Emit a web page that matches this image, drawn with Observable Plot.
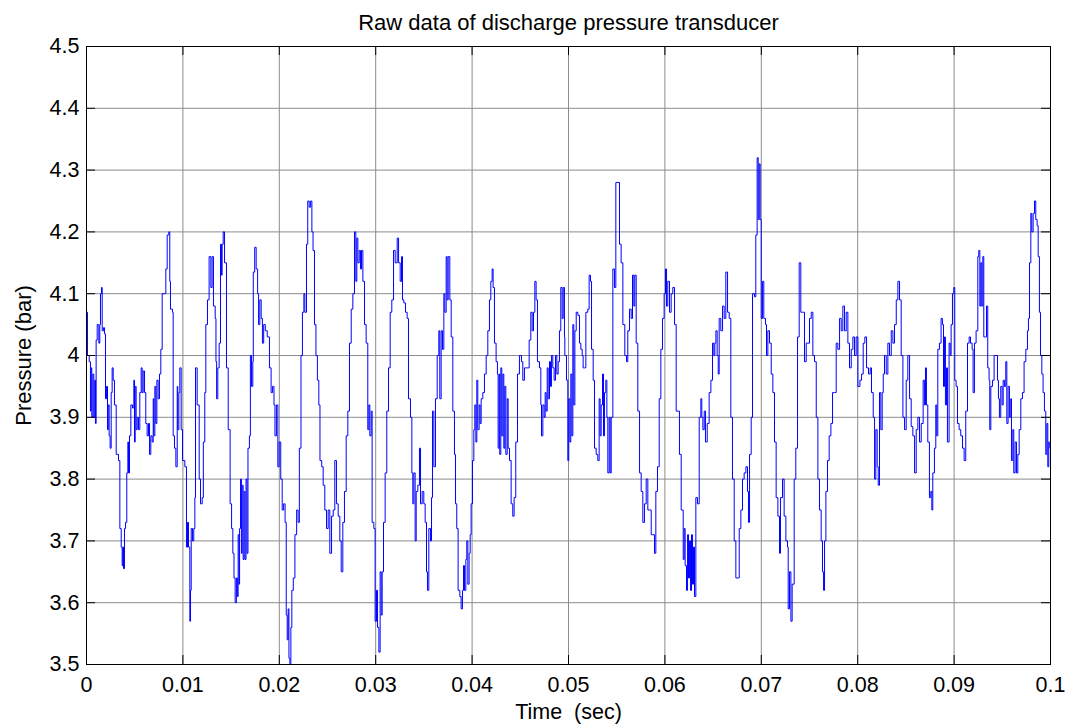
<!DOCTYPE html>
<html>
<head>
<meta charset="utf-8">
<script src="https://cdn.jsdelivr.net/npm/d3@7"></script>
<script src="https://cdn.jsdelivr.net/npm/@observablehq/plot@0.6"></script>
<style>
  body { margin: 0; background: #fff; }
  #chart svg { display: block; }
</style>
</head>
<body>
<div id="chart"></div>
<script>
// ---- data (time in milliseconds, pressure in bar) ----
const timeMs = [
  0.00,0.10,0.28,0.41,0.48,0.55,0.66,0.76,0.86,0.93,1.00,1.11,1.28,1.38,1.45,1.56,1.63,1.76,1.87,1.97,
  2.07,2.18,2.25,2.35,2.45,2.56,2.66,2.77,2.90,3.08,3.32,3.46,3.60,3.70,3.77,3.84,3.94,4.05,4.18,4.29,
  4.36,4.46,4.60,4.77,4.91,4.98,5.05,5.15,5.26,5.39,5.53,5.67,5.77,5.88,6.02,6.15,6.29,6.43,6.54,6.67,
  6.81,6.92,6.98,7.09,7.19,7.30,7.43,7.57,7.71,7.85,8.09,8.23,8.37,8.54,8.64,8.71,8.92,8.99,9.13,9.27,
  9.41,9.47,9.58,9.68,9.82,9.96,10.20,10.37,10.48,10.58,10.72,10.79,10.86,11.00,11.13,11.24,11.31,11.48,11.69,11.83,
  12.00,12.12,12.27,12.38,12.55,12.72,12.90,13.03,13.17,13.35,13.43,13.50,13.62,13.76,13.90,14.00,14.07,14.18,14.32,14.52,
  14.70,14.90,15.05,15.18,15.30,15.42,15.55,15.65,15.73,15.82,15.88,15.98,16.07,16.15,16.25,16.35,16.45,16.55,16.65,16.75,
  16.90,17.00,17.12,17.25,17.30,17.45,17.60,17.75,17.85,17.98,18.12,18.25,18.38,18.55,18.75,18.98,19.15,19.30,19.45,19.55,
  19.70,19.85,19.98,20.15,20.30,20.45,20.60,20.72,20.82,20.92,21.00,21.10,21.20,21.30,21.45,21.62,21.80,21.95,22.08,22.25,
  22.40,22.55,22.65,22.82,22.95,23.10,23.25,23.38,23.50,23.65,23.80,23.95,24.10,24.22,24.40,24.55,24.72,
  24.90,25.07,25.24,25.42,25.59,25.76,25.93,26.11,26.28,26.42,26.59,26.76,26.94,27.11,27.28,27.46,27.63,27.80,27.94,28.04,
  28.15,28.29,28.42,28.53,28.67,28.84,29.01,29.18,29.29,29.39,29.53,29.63,29.81,29.94,30.08,30.19,30.33,30.46,30.57,30.67,
  30.81,30.98,31.15,31.33,31.50,31.67,31.85,32.02,32.23,32.37,32.54,32.68,32.78,32.92,33.09,33.26,33.40,33.61,33.75,33.85,
  33.96,34.09,34.20,34.37,34.54,34.65,34.82,34.99,35.13,35.27,35.37,35.51,35.68,35.79,35.89,36.03,36.20,36.38,36.55,36.65,
  36.79,36.93,37.07,
  37.17,37.31,37.41,37.52,37.69,37.83,38.00,38.17,38.28,38.41,38.55,38.73,38.86,39.00,39.11,39.21,39.35,39.45,39.56,39.69,
  39.80,39.90,40.04,40.18,40.28,40.39,40.49,40.59,40.73,40.83,40.94,41.11,41.28,41.46,41.63,41.80,41.94,42.08,42.18,42.32,
  42.49,42.63,42.70,42.81,42.87,42.98,43.08,43.19,43.29,43.39,43.50,43.64,43.74,43.88,44.05,44.22,44.36,44.53,44.71,44.91,
  45.12,45.26,45.43,45.64,45.92,46.09,46.23,46.37,46.51,46.64,46.78,46.99,47.13,47.20,47.34,47.47,47.58,47.68,47.79,47.89,
  48.03,48.13,48.23,48.37,48.51,48.65,48.79,48.93,49.06,49.20,49.34,49.45,49.58,
  49.62,49.79,49.93,50.03,50.14,50.24,50.35,50.45,50.55,50.66,50.80,50.97,51.14,51.28,51.42,51.52,51.66,51.80,52.00,52.14,
  52.28,52.39,52.56,52.70,52.87,53.04,53.18,53.28,53.39,53.53,53.63,53.73,53.87,53.98,54.08,54.22,54.32,54.43,54.60,54.77,
  54.91,55.12,55.29,55.46,55.64,55.84,56.02,56.15,56.33,56.50,56.64,56.78,56.88,57.02,57.19,57.37,57.54,57.71,57.88,58.06,
  58.23,58.40,58.58,58.75,58.92,59.06,59.23,59.41,59.58,59.75,59.92,60.06,60.17,60.30,60.48,60.65,60.82,61.00,61.17,61.38,
  61.51,61.69,
  61.90,62.00,62.10,62.24,62.35,62.45,62.55,62.66,62.76,62.86,62.97,63.07,63.21,63.38,63.56,63.73,63.83,63.94,64.08,64.21,
  64.39,64.59,64.77,64.94,65.08,65.18,65.29,65.42,65.53,65.63,65.80,65.98,66.15,66.32,66.50,66.67,66.84,67.01,67.19,67.36,
  67.57,67.71,67.88,68.05,68.22,68.40,68.57,68.67,68.78,68.95,69.09,69.30,69.43,69.57,69.68,69.78,69.88,69.99,70.13,70.26,
  70.44,70.54,70.68,70.85,71.03,71.20,71.37,71.54,71.72,71.89,71.99,72.20,72.37,72.55,72.72,72.79,72.93,73.07,73.20,73.41,
  73.58,73.76,73.93,74.10,74.28,
  74.31,74.48,74.66,74.83,75.00,75.18,75.35,75.52,75.70,75.87,76.04,76.21,76.35,76.46,76.56,76.70,76.87,77.04,77.22,77.39,
  77.60,77.77,77.94,78.12,78.29,78.46,78.63,78.81,78.98,79.15,79.33,79.50,79.67,79.84,80.02,80.23,80.40,80.57,80.74,80.92,
  81.12,81.30,81.43,81.61,81.75,81.88,82.02,82.13,82.26,82.40,82.54,82.65,82.78,82.96,83.13,83.30,83.48,83.65,83.82,84.00,
  84.17,84.34,84.51,84.69,84.86,85.03,85.20,85.38,85.55,85.72,85.90,86.07,86.24,86.41,86.59,
  86.79,86.92,87.03,87.13,87.27,87.44,87.58,87.69,87.79,87.96,88.10,88.20,88.31,88.48,88.65,88.79,88.90,89.00,89.10,89.21,
  89.31,89.48,89.59,89.69,89.83,89.97,90.07,90.21,90.35,90.52,90.69,90.87,91.04,91.21,91.39,91.56,91.70,91.87,91.97,92.11,
  92.28,92.46,92.56,92.67,92.77,92.87,92.98,93.08,93.25,93.36,93.49,93.63,93.70,93.81,93.98,94.15,94.32,94.50,94.60,94.70,
  94.84,94.98,95.09,95.22,95.36,95.47,95.60,95.74,95.88,95.95,96.09,96.19,96.33,96.47,96.61,96.75,96.92,97.09,97.26,97.44,
  97.61,97.71,97.82,97.96,98.06,98.20,98.34,98.47,98.61,98.72,98.85,98.96,99.10,99.23,99.37,99.51,99.62,99.72,99.82,99.93,100.00
];
const pressureBar = [
  4.07,4.00,3.99,3.91,3.98,3.90,3.97,3.90,3.96,3.89,4.025,4.05,4.02,4.05,4.10,4.11,4.04,4.045,4.035,3.93,
  3.95,3.88,3.92,3.87,3.85,3.94,3.98,3.96,3.92,3.84,3.83,3.72,3.69,3.66,3.69,3.655,3.72,3.73,3.81,3.86,
  3.81,3.87,3.92,3.915,3.96,3.86,3.95,3.88,3.90,3.88,3.94,3.98,3.94,3.975,3.94,3.89,3.87,3.89,3.84,3.87,
  3.86,3.93,3.87,3.95,3.89,3.96,3.93,3.97,4.01,4.10,4.10,4.14,4.195,4.20,4.12,4.075,4.07,3.87,3.85,3.82,
  3.95,3.88,3.94,3.98,3.88,3.83,3.82,3.69,3.73,3.69,3.57,3.62,3.72,3.70,3.72,3.77,3.98,3.92,3.80,3.76,
  3.77,3.86,3.94,4.05,4.09,4.16,4.11,4.16,4.08,4.06,3.99,3.93,3.98,4.02,4.18,4.13,4.18,4.20,4.15,3.98,
  3.88,3.76,3.72,3.68,3.64,3.60,3.64,3.61,3.71,3.63,3.72,3.80,3.68,3.79,3.67,3.78,3.67,3.80,3.68,3.85,
  3.87,4.00,3.95,3.99,4.135,4.175,4.14,4.10,4.05,4.09,4.06,4.02,4.05,4.04,4.03,3.98,3.94,3.95,3.92,3.87,
  3.92,3.82,3.86,3.80,3.75,3.76,3.73,3.58,3.54,3.59,3.51,3.50,3.56,3.62,3.64,3.71,3.75,3.73,3.85,4.00,
  4.07,4.10,4.07,4.18,4.25,4.24,4.25,4.20,4.17,4.05,4.00,3.96,3.92,3.83,3.82,3.79,3.75,
  3.72,3.75,3.68,3.74,3.75,3.83,3.76,3.74,3.70,3.65,3.73,3.78,3.87,3.91,4.02,4.075,4.10,4.20,4.12,4.19,
  4.15,4.17,4.14,4.17,4.12,4.05,4.02,3.88,3.92,3.87,3.91,3.73,3.72,3.57,3.62,3.56,3.52,3.65,3.58,3.65,
  3.73,3.81,3.91,3.98,4.07,4.09,4.17,4.15,4.19,4.15,4.12,4.16,4.09,4.085,4.07,4.06,3.93,3.90,3.81,3.76,
  3.81,3.70,3.78,3.79,3.85,3.76,3.78,3.76,3.73,3.65,3.62,3.72,3.70,3.77,3.91,3.82,3.93,4.00,4.04,3.93,
  4.04,4.01,4.10,
  4.07,4.16,4.09,4.16,4.09,4.03,3.91,3.84,3.76,3.72,3.62,3.61,3.59,3.62,3.66,3.62,3.67,3.70,3.63,3.68,
  3.71,3.76,3.83,3.88,3.92,3.86,3.96,3.88,3.92,3.89,3.93,3.94,3.97,4.00,4.04,4.09,4.12,4.14,4.11,4.02,
  3.99,3.97,3.85,3.97,3.84,3.98,3.87,3.97,3.85,3.95,3.84,3.93,3.85,3.83,3.76,3.74,3.77,3.86,3.97,4.00,
  3.99,3.96,3.98,3.98,4.025,4.07,4.04,4.07,4.12,4.09,3.99,3.98,3.92,3.87,3.92,3.90,3.94,3.91,3.98,3.93,
  3.99,3.95,4.00,3.98,3.96,4.00,3.97,3.99,4.04,4.11,4.06,4.11,4.03,
  4.00,3.96,3.83,3.93,3.86,3.97,3.87,4.05,3.92,4.04,4.07,4.065,4.02,4.01,4.00,3.98,3.98,4.07,4.075,4.13,
  4.12,4.01,3.96,3.85,3.84,3.83,3.93,3.87,3.92,3.97,3.87,3.94,3.96,3.90,3.81,3.90,3.81,3.90,4.14,4.11,
  4.28,4.28,4.18,4.15,4.05,4.00,3.99,4.04,4.075,4.06,4.13,4.08,4.13,4.02,3.91,3.81,3.78,3.73,3.76,3.80,
  3.75,3.75,3.71,3.71,3.68,3.78,3.82,3.93,4.01,4.06,4.10,4.14,4.08,4.12,4.07,4.10,4.11,4.05,3.91,3.91,
  3.84,3.75,
  3.67,3.72,3.66,3.62,3.71,3.64,3.70,3.62,3.71,3.63,3.69,3.61,3.77,3.76,3.90,3.93,3.90,3.88,3.91,3.86,
  3.89,3.94,3.96,4.02,4.00,4.02,4.04,4.00,3.97,4.06,4.04,4.08,4.06,4.135,4.07,4.06,3.90,3.80,3.70,3.64,
  3.64,3.72,3.75,3.80,3.81,3.82,3.78,3.73,3.84,3.90,4.10,4.095,4.195,4.32,4.22,4.31,4.22,4.06,4.12,4.06,
  4.05,4.00,4.04,4.02,3.97,3.94,3.86,3.77,3.74,3.68,3.77,3.80,3.74,3.70,3.69,3.59,3.65,3.57,3.63,3.80,
  3.85,4.03,4.15,4.07,4.07,
  4.07,3.99,4.02,4.02,4.06,4.07,4.00,3.99,3.90,3.80,3.75,3.70,3.65,3.62,3.70,3.78,3.83,3.87,3.89,3.94,
  3.94,4.02,4.01,4.06,4.04,4.08,4.04,4.07,4.02,3.98,4.01,4.03,4.00,4.03,3.95,3.96,3.97,4.02,4.03,3.98,
  3.97,3.98,3.94,3.90,3.80,3.88,3.82,3.79,3.94,3.88,3.94,3.97,4.00,3.97,4.02,4.00,4.04,4.02,4.05,4.09,
  4.12,4.09,4.00,3.90,3.88,3.96,4.00,3.93,3.885,3.87,3.81,3.88,3.90,3.86,3.89,
  3.96,3.92,3.98,3.92,3.86,3.77,3.78,3.75,3.81,3.85,3.92,3.87,4.01,4.02,4.06,4.05,3.95,4.03,3.92,3.98,
  3.86,4.02,4.00,4.05,4.10,4.11,3.96,3.95,3.89,3.88,3.87,3.85,3.83,3.91,4.02,4.03,4.02,4.01,3.94,4.02,
  4.04,4.16,4.17,4.08,4.15,4.08,4.16,4.03,4.03,4.08,3.98,3.96,3.88,3.95,3.96,4.00,4.00,3.96,3.93,3.90,
  3.95,3.92,3.96,3.95,3.99,3.89,3.95,3.90,3.93,3.83,3.88,3.81,3.86,3.81,3.84,3.88,3.93,3.94,3.99,4.01,
  4.04,4.06,4.15,4.23,4.20,4.23,4.25,4.22,4.21,4.16,4.07,4.00,3.97,3.94,3.91,3.84,3.89,3.82,3.86,3.85,3.83
];

// ---- axes ----
const xTicks = [0, 0.01, 0.02, 0.03, 0.04, 0.05, 0.06, 0.07, 0.08, 0.09, 0.1];
const xTickLabels = ["0", "0.01", "0.02", "0.03", "0.04", "0.05", "0.06", "0.07", "0.08", "0.09", "0.1"];
const yTicks = [3.5, 3.6, 3.7, 3.8, 3.9, 4.0, 4.1, 4.2, 4.3, 4.4, 4.5];
const yTickLabels = ["3.5", "3.6", "3.7", "3.8", "3.9", "4", "4.1", "4.2", "4.3", "4.4", "4.5"];
const titleText = "Raw data of discharge pressure transducer";
const xLabel = "Time  (sec)";
const yLabel = "Pressure (bar)";

const data = timeMs.map((t, i) => ({ time: t / 1000, pressure: pressureBar[i] }));

const W = 1067, H = 726, mL = 86, mR = 17, mT = 46, mB = 62;
const pw = W - mL - mR, ph = H - mT - mB;
const tk = 9; // inward tick length (px)
const font = "'Liberation Sans', Arial, Helvetica, sans-serif";

const chart = Plot.plot({
  width: W, height: H,
  marginLeft: mL, marginRight: mR, marginTop: mT, marginBottom: mB,
  style: { fontFamily: font, background: "#fff", color: "#000" },
  x: { domain: [0, 0.1] },
  y: { domain: [3.5, 4.5] },
  marks: [
    Plot.gridX(xTicks, { stroke: "#8c8c8c", strokeOpacity: 1, strokeWidth: 1 }),
    Plot.gridY(yTicks, { stroke: "#8c8c8c", strokeOpacity: 1, strokeWidth: 1 }),
    Plot.line(data, { x: "time", y: "pressure", stroke: "#0000ff", strokeWidth: 1, curve: "step-after", clip: true }),
    // inward ticks on all four sides
    Plot.tickY(yTicks, { insetRight: pw - tk, stroke: "#000" }),
    Plot.tickY(yTicks, { insetLeft: pw - tk, stroke: "#000" }),
    Plot.tickX(xTicks, { insetTop: ph - tk, stroke: "#000" }),
    Plot.tickX(xTicks, { insetBottom: ph - tk, stroke: "#000" }),
    Plot.frame({ stroke: "#000", strokeWidth: 1 }),
    Plot.axisX(xTicks, {
      anchor: "bottom", tickSize: 0, tickPadding: 12, fontSize: 21.5, label: null,
      tickFormat: d => xTickLabels[xTicks.indexOf(d)]
    }),
    Plot.axisY(yTicks, {
      anchor: "left", tickSize: 0, tickPadding: 7, fontSize: 21.5, label: null,
      tickFormat: d => yTickLabels[yTicks.indexOf(d)]
    }),
    Plot.text([titleText], { frameAnchor: "top", dy: -24, lineAnchor: "middle", textAnchor: "middle", fontSize: 22, fill: "#000" }),
    Plot.text([xLabel], { frameAnchor: "bottom", dy: 48, lineAnchor: "middle", textAnchor: "middle", fontSize: 21.5, fill: "#000" }),
    Plot.text([yLabel], { frameAnchor: "left", dx: -63, rotate: -90, lineAnchor: "middle", textAnchor: "middle", fontSize: 22, fill: "#000" })
  ]
});

document.getElementById("chart").appendChild(chart);
</script>
</body>
</html>
